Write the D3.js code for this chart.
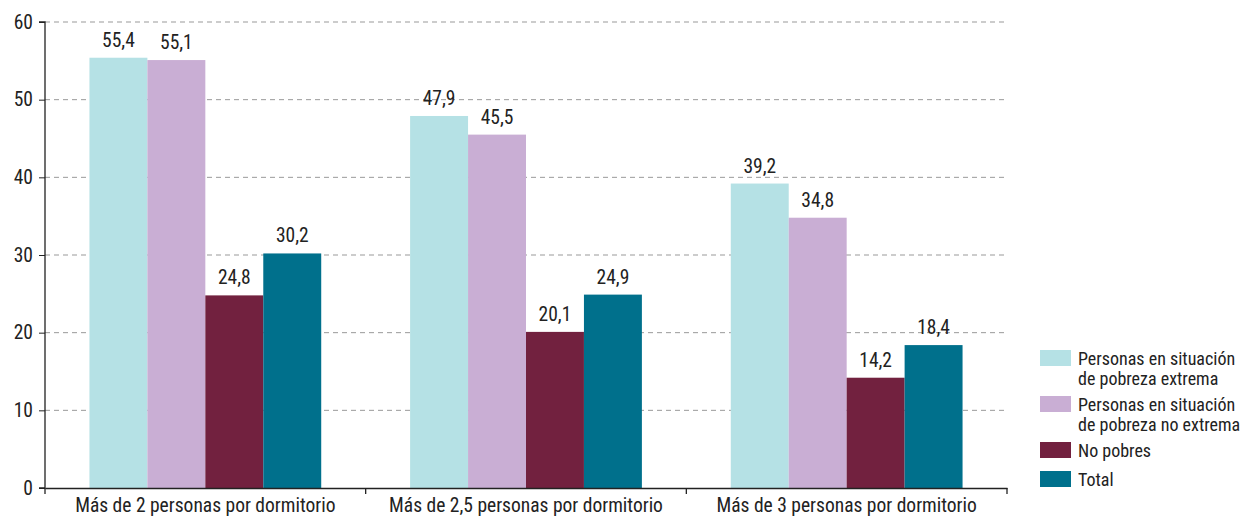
<!DOCTYPE html>
<html><head><meta charset="utf-8">
<script src="https://cdn.jsdelivr.net/npm/d3@7"></script>
<style>
body{margin:0;background:#fff;}
text{font-family:"Liberation Sans Narrow","Roboto Condensed","Arial Narrow",sans-serif;fill:#222;}
</style></head><body>
<svg id="c" width="1260" height="518"></svg>
<script>
const categories = ["Más de 2 personas por dormitorio","Más de 2,5 personas por dormitorio","Más de 3 personas por dormitorio"];
const seriesNames = ["Personas en situación de pobreza extrema","Personas en situación de pobreza no extrema","No pobres","Total"];
const legendLines = [["Personas en situación","de pobreza extrema"],["Personas en situación","de pobreza no extrema"],["No pobres"],["Total"]];
const extremos = [55.4,47.9,39.2];
const noExtremos = [55.1,45.5,34.8];
const noPobres = [24.8,20.1,14.2];
const total = [30.2,24.9,18.4];
const colors = ["#b5e1e5","#c9aed4","#72213f","#00708c"];
const yTicks = [0,10,20,30,40,50,60];

const FS = 19.5;
const FF = '"Liberation Sans Narrow","Roboto Condensed",sans-serif';
const series = [extremos,noExtremos,noPobres,total];
const svg = d3.select("#c");
const m = {l:45,r:253,t:22,b:30};
const W = 1260, H = 518;
const x0 = d3.scaleBand().domain(categories).range([m.l, W-m.r]).paddingInner(0).paddingOuter(0);
const x1 = d3.scaleBand().domain(d3.range(4)).range([0, x0.bandwidth()]).paddingOuter(0.767).paddingInner(0);
const y = d3.scaleLinear().domain([0,60]).range([H-m.b, m.t]);

// grid
svg.append("g").selectAll("line").data(yTicks.filter(d=>d>0)).join("line")
  .attr("x1",m.l).attr("x2",W-m.r).attr("y1",d=>y(d)).attr("y2",d=>y(d))
  .attr("stroke","#999").attr("stroke-dasharray","5,4").attr("stroke-width",1);

// bars
const g = svg.append("g");
categories.forEach((c,i)=>{
  series.forEach((s,j)=>{
    g.append("rect").attr("x",x0(c)+x1(j)).attr("width",x1.bandwidth())
      .attr("y",y(s[i])).attr("height",y(0)-y(s[i])).attr("fill",colors[j]);
    g.append("text").attr("x",x0(c)+x1(j)+x1.bandwidth()/2).attr("y",y(s[i])-11)
      .attr("text-anchor","middle").attr("font-size",FS).text(s[i].toFixed(1).replace(".",","));
  });
});

// y axis
const ya = svg.append("g").attr("transform",`translate(${m.l},0)`)
  .call(d3.axisLeft(y).tickValues(yTicks).tickSize(6).tickPadding(6));
ya.select(".domain").attr("stroke","#222").attr("stroke-width",1.3).attr("d",`M-6,${y(60)}H0V${y(0)}H-6`);
ya.selectAll(".tick line").attr("stroke","#222");
ya.selectAll("text").attr("font-size",FS).style("font-family",FF).attr("fill","#222");

// x axis
const xa = svg.append("g").attr("transform",`translate(0,${y(0)})`)
  .call(d3.axisBottom(x0).tickSize(0).tickPadding(10));
xa.select(".domain").attr("stroke","#222").attr("stroke-width",1.3);
xa.selectAll("text").attr("font-size",FS).style("font-family",FF).attr("fill","#222");
const bounds = [...categories.map(c=>x0(c)), W-m.r];
xa.selectAll(".bt").data(bounds).join("line").attr("x1",d=>d).attr("x2",d=>d)
  .attr("y1",0).attr("y2",6).attr("stroke","#222").attr("stroke-width",1.3);

// legend
const lg = svg.append("g");
const ly = [350,396,442,471];
seriesNames.forEach((n,i)=>{
  lg.append("rect").attr("x",1040).attr("y",ly[i]).attr("width",31).attr("height",16).attr("fill",colors[i]);
  legendLines[i].forEach((l,k)=>lg.append("text").attr("x",1078).attr("y",ly[i]+15+k*20.3)
    .attr("font-size",18).text(l));
});
</script></body></html>
